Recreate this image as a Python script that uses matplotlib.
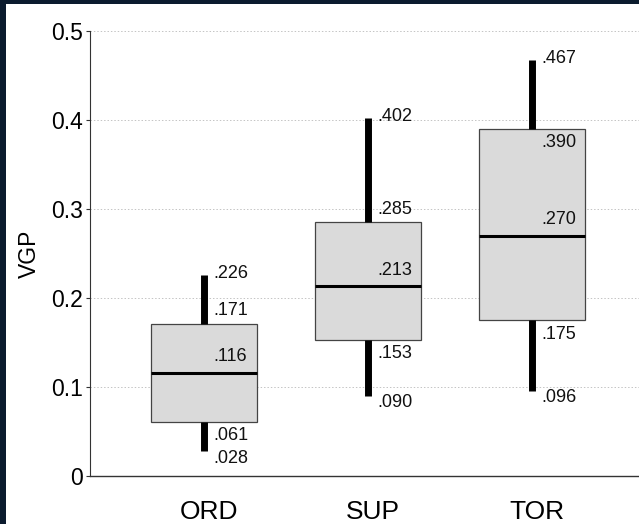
import matplotlib.pyplot as plt
import matplotlib.transforms as mtransforms
from matplotlib.patches import Rectangle
from matplotlib.ticker import FuncFormatter

plt.rcParams['font.family'] = ['Liberation Sans', 'DejaVu Sans']

# five-number summaries
groups = ['ORD', 'SUP', 'TOR']
mins = [0.028, 0.090, 0.096]
q1s = [0.061, 0.153, 0.175]
medians = [0.116, 0.213, 0.270]
q3s = [0.171, 0.285, 0.390]
maxs = [0.226, 0.402, 0.467]
yticks = [0, 0.1, 0.2, 0.3, 0.4, 0.5]

# the TOR upper-quartile label sits inside the box
q3_side = [1, 1, -1]

fig = plt.figure(figsize=(6.39, 5.24), dpi=100, facecolor='#0b1b2e')
fig.add_artist(Rectangle((6 / 639, 0), 1, 1 - 4 / 524, transform=fig.transFigure,
                         facecolor='white', edgecolor='none', zorder=-10))
ax = fig.add_axes([90 / 639, 48 / 524, 1 - 90 / 639, (476 - 31) / 524])
ax.set_facecolor('none')

stats = []
for i, g in enumerate(groups):
    stats.append(dict(label=g, whislo=mins[i], q1=q1s[i], med=medians[i],
                      q3=q3s[i], whishi=maxs[i]))

pos = [1, 2, 3]
ax.bxp(stats, positions=pos, widths=0.646, showcaps=False, showfliers=False,
       patch_artist=True,
       boxprops=dict(facecolor='#dadada', edgecolor='#444444', linewidth=0.9),
       whiskerprops=dict(color='black', linewidth=5, solid_capstyle='butt'),
       medianprops=dict(color='black', linewidth=2.2, solid_capstyle='butt'))

dx = 6.5  # points right of the whisker
for i, p in enumerate(pos):
    lab = lambda v, dy: ax.annotate(f'{v:.3f}'[1:], (p, v), xytext=(dx, dy),
                                    textcoords='offset points', ha='left',
                                    va='center', fontsize=13, color='#111111')
    lab(maxs[i], 1)
    lab(q3s[i], 9.5 * q3_side[i])
    lab(medians[i], 11.5)
    lab(q1s[i], -10)
    lab(mins[i], -5)

ax.set_xlim(0.305, 3.652)
ax.set_ylim(0, 0.5)
ax.set_yticks(yticks)
ax.yaxis.set_major_formatter(FuncFormatter(lambda v, _: '0' if v == 0 else f'{v:.1f}'))
for y in yticks[1:]:
    ax.axhline(y, color='#c4c4c4', linewidth=0.7, linestyle=(0, (1.5, 2)), zorder=0)

ax.set_xticks(pos)
ax.set_xticklabels(groups, fontsize=19)
ax.tick_params(axis='x', length=0, pad=17)
shift = mtransforms.ScaledTranslation(5 / 100, 0, fig.dpi_scale_trans)
for t in ax.get_xticklabels():
    t.set_transform(t.get_transform() + shift)
ax.tick_params(axis='y', labelsize=16.5, length=3, width=0.8, pad=2, color='#333333')
ax.set_ylabel('VGP', fontsize=16.5, labelpad=10)
ax.yaxis.set_label_coords(-49 / 549, 0.5)

for s in ['top', 'right']:
    ax.spines[s].set_visible(False)
ax.spines['left'].set_color('#333333')
ax.spines['left'].set_linewidth(0.8)
ax.spines['bottom'].set_color('#333333')
ax.spines['bottom'].set_linewidth(1.0)

fig.savefig('out.png', dpi=100, facecolor=fig.get_facecolor())
